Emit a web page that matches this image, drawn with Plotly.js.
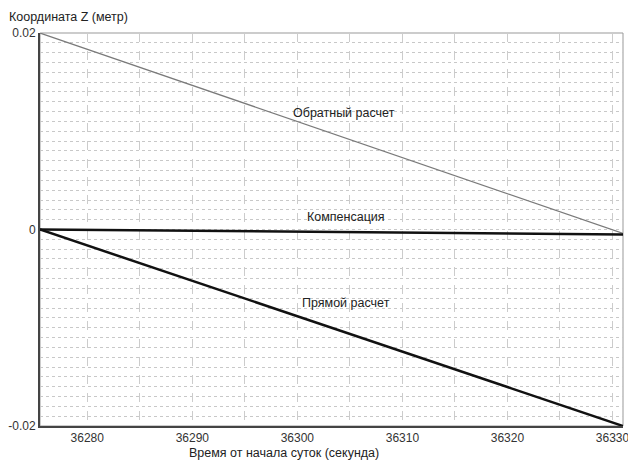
<!DOCTYPE html>
<html>
<head>
<meta charset="utf-8">
<script src="https://cdn.plot.ly/plotly-3.0.1.min.js"></script>
<style>html,body{margin:0;padding:0;background:#fff;}#chart{width:628px;height:462px;}</style>
</head>
<body>
<div id="chart"></div>
<script>
// Time, seconds from start of day
const timeSec = [36275.5, 36331];
// Z coordinate, metres
const zInverse = [0.02, -0.0004];      // Обратный расчет
const zCompensation = [0, -0.0005];    // Компенсация
const zDirect = [0, -0.02];            // Прямой расчет

const xTickVals = [36280, 36290, 36300, 36310, 36320, 36330];
const xTickText = ['36280', '36290', '36300', '36310', '36320', '36330'];
const yTickVals = [-0.02, 0, 0.02];
const yTickText = ['-0.02', '0', '0.02'];

const seriesNames = ['Обратный расчет', 'Компенсация', 'Прямой расчет'];
const xTitle = 'Время от начала суток (секунда)';
const yTitle = 'Координата Z (метр)';

const FONT = 'Liberation Sans, Arial, sans-serif';

const traces = [
  {x: timeSec, y: zInverse, name: seriesNames[0], mode: 'lines', line: {color: '#7a7a7a', width: 1.2}},
  {x: timeSec, y: zCompensation, name: seriesNames[1], mode: 'lines', line: {color: '#111', width: 2.5}},
  {x: timeSec, y: zDirect, name: seriesNames[2], mode: 'lines', line: {color: '#111', width: 2.5}}
];

const layout = {
  width: 628, height: 462,
  margin: {l: 40, r: 5, t: 33, b: 36},
  paper_bgcolor: '#fff', plot_bgcolor: '#fff',
  showlegend: false,
  font: {family: FONT, size: 12, color: '#333'},
  xaxis: {
    range: [36275.5, 36331],
    tickvals: xTickVals, ticktext: xTickText,
    ticks: '', ticklabeloverflow: 'allow',
    showgrid: true, gridcolor: '#cccccc', griddash: 'dash', gridwidth: 1,
    minor: {dtick: 5, tick0: 36275, showgrid: true, gridcolor: '#cccccc', griddash: 'dash', gridwidth: 1},
    zeroline: false, showline: true, linecolor: '#444', linewidth: 2,
    tickfont: {family: FONT, size: 12, color: '#333'}
  },
  yaxis: {
    range: [-0.02, 0.02],
    tickvals: yTickVals, ticktext: yTickText,
    ticks: '', showgrid: true, gridcolor: '#c8c8c8', griddash: 'dot', gridwidth: 1,
    minor: {dtick: 0.001, tick0: 0, showgrid: true, gridcolor: '#c8c8c8', griddash: 'dot', gridwidth: 1},
    zeroline: false, showline: true, linecolor: '#444', linewidth: 2,
    tickfont: {family: FONT, size: 12, color: '#333'}
  },
  shapes: [
    {type: 'rect', xref: 'paper', yref: 'paper', x0: 0, x1: 1, y0: 0, y1: 1,
     line: {color: '#999', width: 1}, layer: 'below'}
  ],
  annotations: [
    {text: seriesNames[0], xref: 'paper', yref: 'paper', x: (344 - 40) / 583, y: (426 - 113) / 393,
     xanchor: 'center', yanchor: 'middle',
     showarrow: false, font: {family: FONT, size: 12.5, color: '#222'}},
    {text: seriesNames[1], xref: 'paper', yref: 'paper', x: (346 - 40) / 583, y: (426 - 217) / 393,
     xanchor: 'center', yanchor: 'middle',
     showarrow: false, font: {family: FONT, size: 12.5, color: '#222'}},
    {text: seriesNames[2], xref: 'paper', yref: 'paper', x: (346 - 40) / 583, y: (426 - 303) / 393,
     xanchor: 'center', yanchor: 'middle',
     showarrow: false, font: {family: FONT, size: 12.5, color: '#222'}},
    {text: yTitle, xref: 'paper', yref: 'paper', x: -33 / 583, y: (426 - 17) / 393,
     xanchor: 'left', yanchor: 'middle', showarrow: false, font: {family: FONT, size: 12.5, color: '#222'}},
    {text: xTitle, xref: 'paper', yref: 'paper', x: (284 - 40) / 583, y: -(453 - 426) / 393,
     xanchor: 'center', yanchor: 'middle', showarrow: false, font: {family: FONT, size: 12.5, color: '#222'}}
  ]
};

Plotly.newPlot('chart', traces, layout, {displayModeBar: false, staticPlot: true});
</script>
</body>
</html>
